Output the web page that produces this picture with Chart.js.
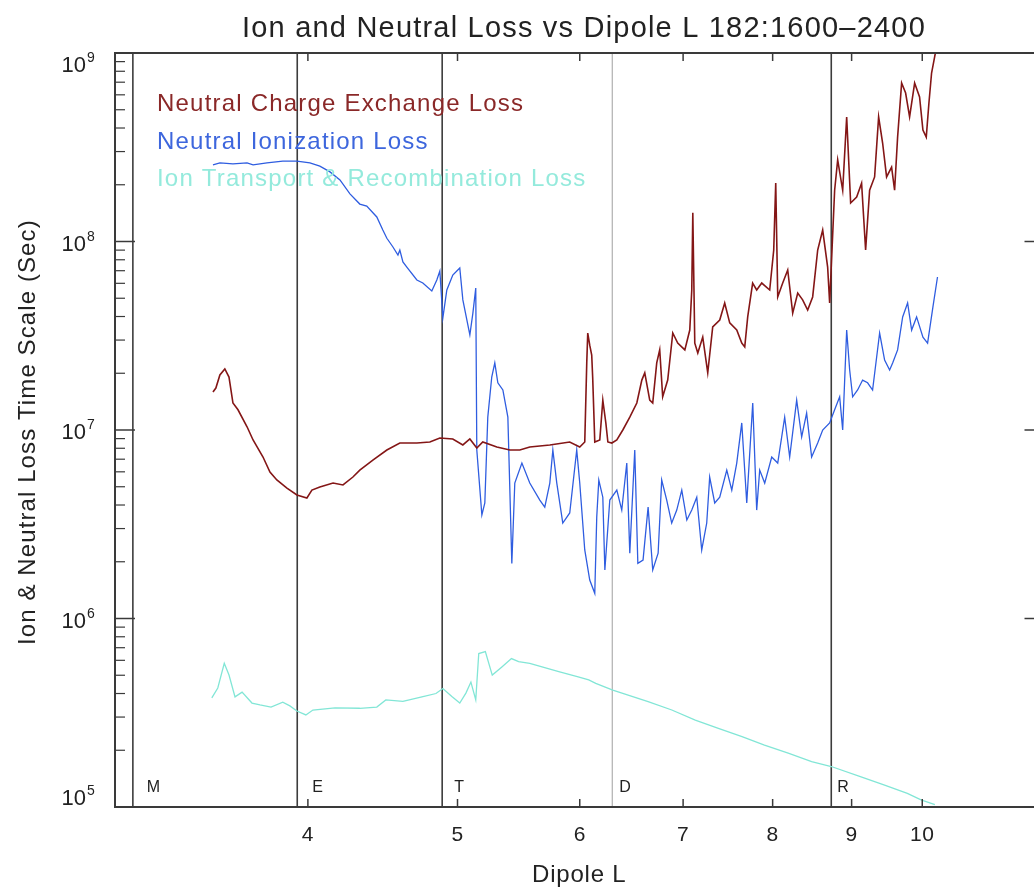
<!DOCTYPE html>
<html>
<head>
<meta charset="utf-8">
<script src="https://cdn.jsdelivr.net/npm/chart.js@4"></script>
<style>
  html, body { margin: 0; padding: 0; background: #fff; overflow: hidden; }
  #wrap { position: absolute; left: 0; top: 0; width: 1050px; height: 890px; }
</style>
</head>
<body>
<div id="wrap"><canvas id="lossChart" width="1050" height="890"></canvas></div>
<script>
// Loss time scales (sec) vs dipole L, orbit 182, samples 1600-2400
// each entry is [dipole L, time scale in seconds]
const chargeExchange = [
  [3.472,1.59e7],[3.487,1.67e7],[3.508,1.96e7],[3.534,2.11e7],[3.556,1.91e7],[3.577,1.39e7],
  [3.604,1.28e7],[3.653,1.04e7],[3.686,8.85e6],[3.741,7.19e6],[3.780,5.98e6],[3.819,5.43e6],
  [3.877,4.92e6],[3.935,4.52e6],[3.994,4.36e6],[4.024,4.80e6],[4.072,4.99e6],[4.153,5.23e6],
  [4.215,5.11e6],[4.278,5.63e6],[4.322,6.13e6],[4.407,6.93e6],[4.500,7.83e6],[4.588,8.53e6],
  [4.706,8.53e6],[4.798,8.64e6],[4.870,9.07e6],[4.965,8.96e6],[5.040,8.33e6],[5.093,8.96e6],
  [5.146,8.03e6],[5.192,8.64e6],[5.302,8.13e6],[5.406,7.83e6],[5.487,7.83e6],[5.569,8.13e6],
  [5.738,8.33e6],[5.911,8.64e6],[6.000,8.13e6],[6.045,8.64e6],[6.063,2.27e7],[6.072,3.27e7],
  [6.090,2.82e7],[6.108,2.50e7],[6.117,1.89e7],[6.136,8.64e6],[6.182,8.85e6],[6.210,1.44e7],
  [6.238,1.09e7],[6.257,8.64e6],[6.294,8.53e6],[6.341,8.85e6],[6.398,1.00e7],[6.465,1.17e7],
  [6.533,1.39e7],[6.582,1.84e7],[6.611,2.01e7],[6.660,1.44e7],[6.690,1.39e7],[6.730,2.27e7],
  [6.760,2.66e7],[6.790,1.50e7],[6.841,1.84e7],[6.893,3.27e7],[6.944,2.89e7],[7.018,2.66e7],
  [7.070,3.39e7],[7.091,5.53e7],[7.102,1.42e8],[7.123,2.89e7],[7.155,2.56e7],[7.208,3.11e7],
  [7.262,2.01e7],[7.316,3.52e7],[7.393,3.83e7],[7.448,4.72e7],[7.504,3.70e7],[7.583,3.39e7],
  [7.640,2.89e7],[7.674,2.76e7],[7.708,3.98e7],[7.765,6.02e7],[7.812,5.53e7],[7.871,6.02e7],
  [7.965,5.53e7],[8.013,9.01e7],[8.037,2.04e8],[8.061,5.08e7],[8.121,6.02e7],[8.182,7.06e7],
  [8.243,4.17e7],[8.305,5.33e7],[8.366,4.90e7],[8.429,4.33e7],[8.492,5.08e7],[8.556,9.01e7],
  [8.620,1.15e8],[8.684,7.32e7],[8.710,4.72e7],[8.775,1.87e8],[8.815,2.71e8],[8.881,1.87e8],
  [8.934,4.58e8],[8.987,1.60e8],[9.068,1.72e8],[9.135,2.04e8],[9.190,9.01e7],[9.245,1.87e8],
  [9.314,2.20e8],[9.370,4.58e8],[9.426,3.33e8],[9.482,2.20e8],[9.553,2.48e8],[9.596,1.87e8],
  [9.639,3.58e8],[9.697,6.93e8],[9.755,6.13e8],[9.813,4.58e8],[9.887,6.93e8],[9.960,5.84e8],
  [10.01,3.90e8],[10.06,3.58e8],[10.10,5.43e8],[10.14,7.83e8],[10.20,1.01e9],[10.23,1.17e9]
];

const ionization = [
  [3.472,2.55e8],[3.508,2.61e8],[3.577,2.58e8],[3.653,2.61e8],[3.686,2.55e8],[3.763,2.61e8],
  [3.853,2.67e8],[3.935,2.67e8],[4.012,2.61e8],[4.072,2.51e8],[4.134,2.34e8],[4.196,2.12e8],
  [4.259,1.79e8],[4.322,1.58e8],[4.367,1.54e8],[4.433,1.35e8],[4.473,1.15e8],[4.500,1.04e8],
  [4.541,9.35e7],[4.575,8.48e7],[4.588,9.01e7],[4.609,7.79e7],[4.636,7.32e7],[4.706,6.25e7],
  [4.748,6.02e7],[4.812,5.46e7],[4.848,6.25e7],[4.870,6.97e7],[4.892,3.93e7],[4.921,5.53e7],
  [4.965,6.64e7],[5.017,7.23e7],[5.040,4.90e7],[5.093,3.20e7],[5.116,4.17e7],[5.138,5.67e7],
  [5.146,7.83e6],[5.185,3.54e6],[5.208,4.10e6],[5.231,1.17e7],[5.262,1.91e7],[5.286,2.27e7],
  [5.310,1.78e7],[5.350,1.63e7],[5.390,1.17e7],[5.406,4.80e6],[5.422,1.96e6],[5.446,5.23e6],
  [5.504,6.68e6],[5.569,5.23e6],[5.653,4.25e6],[5.695,3.90e6],[5.738,5.23e6],[5.764,7.83e6],
  [5.798,5.23e6],[5.850,3.21e6],[5.911,3.63e6],[5.973,7.83e6],[6.000,5.23e6],[6.045,2.31e6],
  [6.090,1.60e6],[6.136,1.36e6],[6.154,3.45e6],[6.173,5.43e6],[6.210,4.40e6],[6.229,1.81e6],
  [6.275,4.25e6],[6.341,4.80e6],[6.388,3.76e6],[6.436,6.68e6],[6.465,2.22e6],[6.513,7.83e6],
  [6.543,1.96e6],[6.594,2.04e6],[6.644,3.90e6],[6.690,1.81e6],[6.744,2.22e6],[6.780,5.43e6],
  [6.831,4.25e6],[6.882,3.21e6],[6.934,3.76e6],[6.986,4.80e6],[7.039,3.33e6],[7.091,3.76e6],
  [7.144,4.40e6],[7.197,2.31e6],[7.251,3.21e6],[7.283,5.63e6],[7.338,4.10e6],[7.393,4.40e6],
  [7.471,6.13e6],[7.527,4.80e6],[7.583,6.68e6],[7.640,1.09e7],[7.697,4.10e6],[7.766,1.39e7],
  [7.812,3.76e6],[7.847,6.13e6],[7.906,5.23e6],[7.989,7.19e6],[8.061,6.68e6],[8.145,1.17e7],
  [8.206,7.19e6],[8.292,1.44e7],[8.354,9.18e6],[8.416,1.23e7],[8.479,7.19e6],[8.556,8.53e6],
  [8.620,1.00e7],[8.710,1.09e7],[8.775,1.28e7],[8.841,1.50e7],[8.881,1.00e7],[8.934,3.39e7],
  [8.974,2.08e7],[9.014,1.50e7],[9.081,1.63e7],[9.149,1.84e7],[9.217,1.78e7],[9.286,1.63e7],
  [9.384,3.27e7],[9.454,2.35e7],[9.525,2.08e7],[9.568,2.27e7],[9.639,2.66e7],[9.712,3.98e7],
  [9.784,4.72e7],[9.843,3.39e7],[9.916,3.98e7],[10.01,3.11e7],[10.08,2.89e7],[10.16,4.49e7],
  [10.23,6.48e7]
];

const ionTransport = [
  [3.466,3.79e5],[3.497,4.28e5],[3.531,5.78e5],[3.556,5.01e5],[3.588,3.84e5],[3.626,4.07e5],
  [3.680,3.56e5],[3.724,3.48e5],[3.786,3.39e5],[3.853,3.60e5],[3.894,3.44e5],[3.935,3.23e5],
  [3.988,3.08e5],[4.030,3.27e5],[4.165,3.36e5],[4.322,3.34e5],[4.433,3.39e5],[4.493,3.70e5],
  [4.609,3.63e5],[4.734,3.83e5],[4.842,4.00e5],[4.892,4.25e5],[4.958,3.86e5],[5.017,3.56e5],
  [5.063,4.02e5],[5.101,4.60e5],[5.138,3.70e5],[5.161,6.52e5],[5.212,6.67e5],[5.266,5.01e5],
  [5.342,5.53e5],[5.419,6.13e5],[5.477,5.90e5],[5.569,5.78e5],[5.815,5.22e5],[5.978,4.91e5],
  [6.081,4.72e5],[6.145,4.53e5],[6.303,4.17e5],[6.644,3.62e5],[6.883,3.27e5],[7.128,2.89e5],
  [7.378,2.61e5],[7.643,2.36e5],[7.903,2.13e5],[8.188,1.93e5],[8.479,1.74e5],[8.731,1.64e5],
  [9.118,1.45e5],[9.444,1.31e5],[9.780,1.18e5],[9.982,1.09e5],[10.19,1.03e5]
];

// region boundaries and their letters
const regionL = [3.081, 3.937, 4.887, 6.298, 8.731];
const regionNames = ["M", "E", "T", "D", "R"];

const xTickValues = [4, 5, 6, 7, 8, 9, 10];
const yExponents = [5, 6, 7, 8, 9];

const seriesNames = [
  "Neutral Charge Exchange Loss",
  "Neutral Ionization Loss",
  "Ion Transport & Recombination Loss"
];
const seriesColors = ["#841616", "#2f5de0", "#82e6d6"];
const legendColors = ["#8a2828", "#3d66dd", "#94eadc"];

const FONT = '"Liberation Sans", Arial, Helvetica, sans-serif';
const AXIS = "#3a3a3a";

function toPoints(rows) {
  return rows.map(r => ({ x: r[0], y: r[1] }));
}

function drawText(ctx, str, x, y, size, color, align, spacing) {
  ctx.font = size + "px " + FONT;
  ctx.fillStyle = color;
  ctx.textAlign = align || "left";
  ctx.textBaseline = "alphabetic";
  ctx.letterSpacing = (spacing || 0) + "px";
  ctx.fillText(str, x, y);
  ctx.letterSpacing = "0px";
}

function line(ctx, x1, y1, x2, y2) {
  ctx.beginPath();
  ctx.moveTo(x1, y1);
  ctx.lineTo(x2, y2);
  ctx.stroke();
}

const regionStyle = [
  { color: "#3c3c3c", width: 1.6, dx: 14 },
  { color: "#3c3c3c", width: 1.6, dx: 15 },
  { color: "#3c3c3c", width: 1.6, dx: 12 },
  { color: "#a8a8a8", width: 1.1, dx: 7 },
  { color: "#3c3c3c", width: 1.6, dx: 6 }
];

const frame = {
  id: "frame",
  beforeDatasetsDraw(chart) {
    const { ctx, chartArea: a } = chart;
    const xs = chart.scales.x;
    ctx.save();
    regionL.forEach((L, i) => {
      const st = regionStyle[i];
      const px = xs.getPixelForValue(L);
      ctx.strokeStyle = st.color;
      ctx.lineWidth = st.width;
      line(ctx, px, a.top, px, a.bottom);
      drawText(ctx, regionNames[i], px + st.dx, 792, 16, "#222", "left", 0.5);
    });
    ctx.restore();
  },
  afterDatasetsDraw(chart) {
    const { ctx, chartArea: a } = chart;
    const xs = chart.scales.x, ys = chart.scales.y;
    ctx.save();

    // box
    ctx.strokeStyle = AXIS;
    ctx.lineWidth = 2;
    ctx.strokeRect(a.left, a.top, a.right - a.left, a.bottom - a.top);

    // x ticks top and bottom
    ctx.lineWidth = 1.5;
    xTickValues.forEach(v => {
      const px = xs.getPixelForValue(v);
      line(ctx, px, a.bottom, px, a.bottom - 8);
      line(ctx, px, a.top, px, a.top + 8);
      drawText(ctx, String(v), px, 841, 21, "#222", "center", 0.5);
    });

    // y ticks, log minors, both sides
    yExponents.forEach(e => {
      const py = ys.getPixelForValue(Math.pow(10, e));
      ctx.lineWidth = 1.5;
      line(ctx, a.left, py, a.left + 20, py);
      line(ctx, a.right, py, a.right - 20, py);
      if (e < 9) {
        for (let m = 2; m <= 9; m++) {
          const pm = ys.getPixelForValue(m * Math.pow(10, e));
          ctx.lineWidth = 1.2;
          line(ctx, a.left, pm, a.left + 10, pm);
          line(ctx, a.right, pm, a.right - 10, pm);
        }
      }
      let base = py + 9;
      if (e === 9) base = py + 19;
      if (e === 5) base = py - 2;
      drawText(ctx, "10", 86, base, 22, "#222", "right", 0);
      drawText(ctx, String(e), 87, base - 10, 14, "#222", "left", 0);
    });

    // title and axis titles
    drawText(ctx, "Ion and Neutral Loss vs Dipole L 182:1600\u20132400", 242, 37, 29, "#222", "left", 1.2);
    drawText(ctx, "Dipole L", 532, 882, 24, "#222", "left", 0.8);
    ctx.save();
    ctx.translate(35, 645);
    ctx.rotate(-Math.PI / 2);
    drawText(ctx, "Ion & Neutral Loss Time Scale (Sec)", 0, 0, 24, "#222", "left", 1.1);
    ctx.restore();

    // series labels
    seriesNames.forEach((name, i) => {
      drawText(ctx, name, 157, 111 + i * 37.5, 24, legendColors[i], "left", 1.2);
    });
    ctx.restore();
  }
};

const ctx = document.getElementById("lossChart");
new Chart(ctx, {
  type: "line",
  data: {
    datasets: [chargeExchange, ionization, ionTransport].map((rows, i) => ({
      label: seriesNames[i],
      data: toPoints(rows),
      borderColor: seriesColors[i],
      borderWidth: i === 0 ? 1.6 : 1.3,
      pointRadius: 0,
      tension: 0,
      fill: false
    }))
  },
  options: {
    responsive: false,
    animation: false,
    events: [],
    layout: { padding: { left: 115, top: 53, right: 5.5, bottom: 83 } },
    scales: {
      x: { type: "logarithmic", min: 3, max: 12, display: false },
      y: { type: "logarithmic", min: 1e5, max: 1e9, display: false }
    },
    plugins: {
      legend: { display: false },
      tooltip: { enabled: false }
    }
  },
  plugins: [frame]
});
</script>
</body>
</html>
